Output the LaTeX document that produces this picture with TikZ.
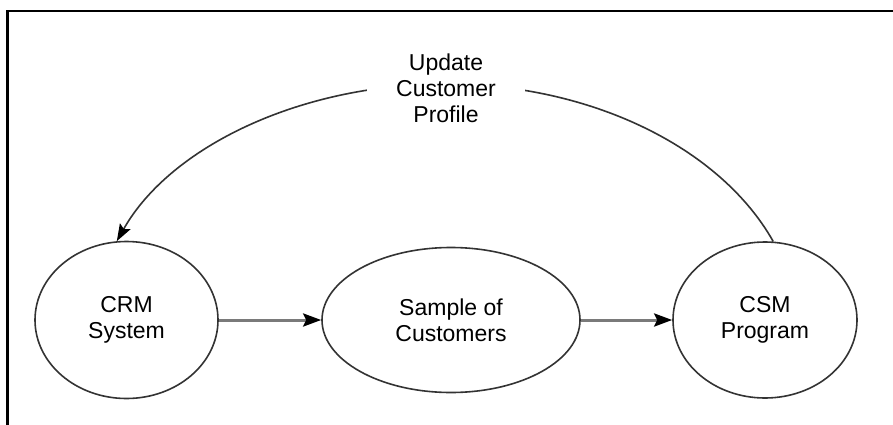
\documentclass[tikz,border=0pt]{standalone}
\usepackage{fontspec}
\setmainfont{Liberation Sans}
\usetikzlibrary{arrows.meta,shapes.geometric}
\definecolor{edgegray}{HTML}{333333}
\definecolor{flowgray}{HTML}{7A7A7A}
\tikzset{
  bubble/.style={ellipse, draw=edgegray, line width=1.6pt, inner sep=0pt, align=center,
    font=\fontsize{23}{26}\selectfont},
  flow/.style={draw=flowgray, line width=3pt, -{Stealth[length=18pt,width=13pt,inset=3pt,fill=black,color=black]}},
  loop/.style={draw=edgegray, line width=1.6pt, -{Stealth[length=17pt,width=12pt,inset=3pt,fill=black,color=black]}},
  lbl/.style={align=center, fill=white, inner xsep=4pt, inner ysep=2pt, font=\fontsize{23}{26}\selectfont},
  frameline/.style={draw=black, line width=2.2pt}
}
\begin{document}
\begin{tikzpicture}[x=1pt,y=-1pt]
\useasboundingbox (0,0) rectangle (893,425);
\draw[frameline] (7.5,425) -- (7.5,11) -- (893,11);
\node[bubble, minimum width=183pt, minimum height=157pt] (crm) at (126.5,320) {CRM\\System};
\node[bubble, minimum width=258pt, minimum height=145pt] (mid) at (451,320) {Sample of\\Customers};
\node[bubble, minimum width=184pt, minimum height=156pt] (csm) at (765,320) {CSM\\Program};
\draw[flow] (crm) -- (mid);
\draw[flow] (mid) -- (csm);
\coordinate (apex) at (446,84);
\draw[loop] (csm.84) .. controls (720,147) and (590,84) .. (apex)
  .. controls (300,84) and (170,147) .. (crm.97);
\node[lbl, minimum width=158pt] (upd) at (446,88) {Update\\Customer\\Profile};
\end{tikzpicture}
\end{document}
